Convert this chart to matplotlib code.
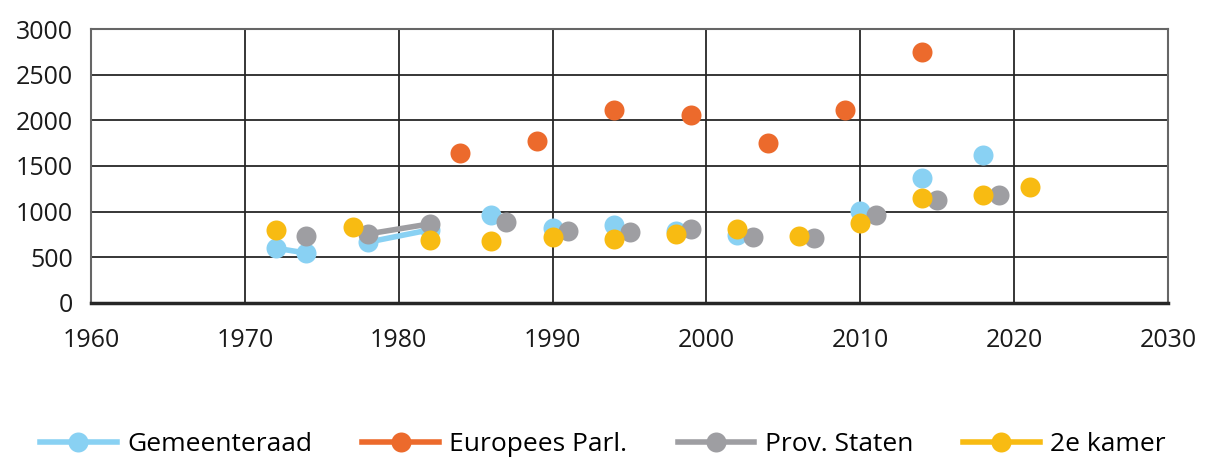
import numpy as np
import matplotlib.pyplot as plt

plt.rcParams['font.family'] = ['Open Sans', 'DejaVu Sans']

nan = np.nan

# gaps (nan) break the connecting line, like empty cells in the spreadsheet
gem_years = [1972, 1974, nan, 1978, 1982, nan, 1986, nan, 1990, nan, 1994, nan, 1998, nan, 2002, nan, 2010, nan, 2014, nan, 2018]
gem_vals = [600, 545, nan, 665, 800, nan, 960, nan, 820, nan, 855, nan, 790, nan, 745, nan, 1005, nan, 1370, nan, 1620]

ep_years = [1984, 1989, 1994, 1999, 2004, 2009, 2014]
ep_vals = [1645, 1775, 2115, 2060, 1750, 2115, 2750]

ps_years = [1974, nan, 1978, 1982, nan, 1987, nan, 1991, nan, 1995, nan, 1999, nan, 2003, nan, 2007, nan, 2011, nan, 2015, nan, 2019]
ps_vals = [735, nan, 755, 865, nan, 890, nan, 790, nan, 775, nan, 810, nan, 720, nan, 710, nan, 965, nan, 1130, nan, 1185]

tk_years = [1972, 1977, 1982, 1986, 1990, 1994, 1998, 2002, 2006, 2010, 2014, 2018, 2021]
tk_vals = [800, 830, 690, 680, 720, 700, 755, 805, 735, 875, 1150, 1185, 1265]

fig = plt.figure(figsize=(12.06, 4.61), dpi=100)
ax = fig.add_axes([0.0755, 0.343, 0.893, 0.594])

ms = 14.4
ax.plot(gem_years, gem_vals, color='#89D1F3', lw=4, marker='o', ms=ms, mec='none', label='Gemeenteraad', zorder=3)
ax.plot(ep_years, ep_vals, color='#EC6A2C', lw=4, ls='none', marker='o', ms=ms, mec='none', label='Europees Parl.', zorder=4)
ax.plot(ps_years, ps_vals, color='#9E9EA2', lw=4, marker='o', ms=ms, mec='none', label='Prov. Staten', zorder=5)
ax.plot(tk_years, tk_vals, color='#F8BB12', lw=4, ls='none', marker='o', ms=ms, mec='none', label='2e kamer', zorder=6)

ax.set_xlim(1960, 2030)
ax.set_ylim(0, 3000)
ax.set_xticks(range(1960, 2031, 10))
ax.set_yticks(range(0, 3001, 500))
ax.grid(True, color='#262626', lw=1.3, zorder=1)
ax.set_axisbelow(True)
for s in ['top', 'right', 'left']:
    ax.spines[s].set_color('#666666')
    ax.spines[s].set_linewidth(1.5)
ax.spines['bottom'].set_color('#262626')
ax.spines['bottom'].set_linewidth(2.5)
ax.tick_params(length=0, labelsize=18, colors='#1a1a1a')
ax.tick_params(axis='x', pad=18)
ax.tick_params(axis='y', pad=13)

# legend handles show the line even for the marker-only series
handles = []
for c in ['#89D1F3', '#EC6A2C', '#9E9EA2', '#F8BB12']:
    h, = ax.plot([], [], color=c, lw=4, marker='o', ms=ms, mec='none')
    handles.append(h)
fig.legend(handles, ['Gemeenteraad', 'Europees Parl.', 'Prov. Staten', '2e kamer'],
           loc='center', bbox_to_anchor=(0.5, 0.035), ncol=4, frameon=False,
           fontsize=19, handlelength=2.9, columnspacing=1.9, handletextpad=0.4)

fig.savefig('out.png', dpi=100)
